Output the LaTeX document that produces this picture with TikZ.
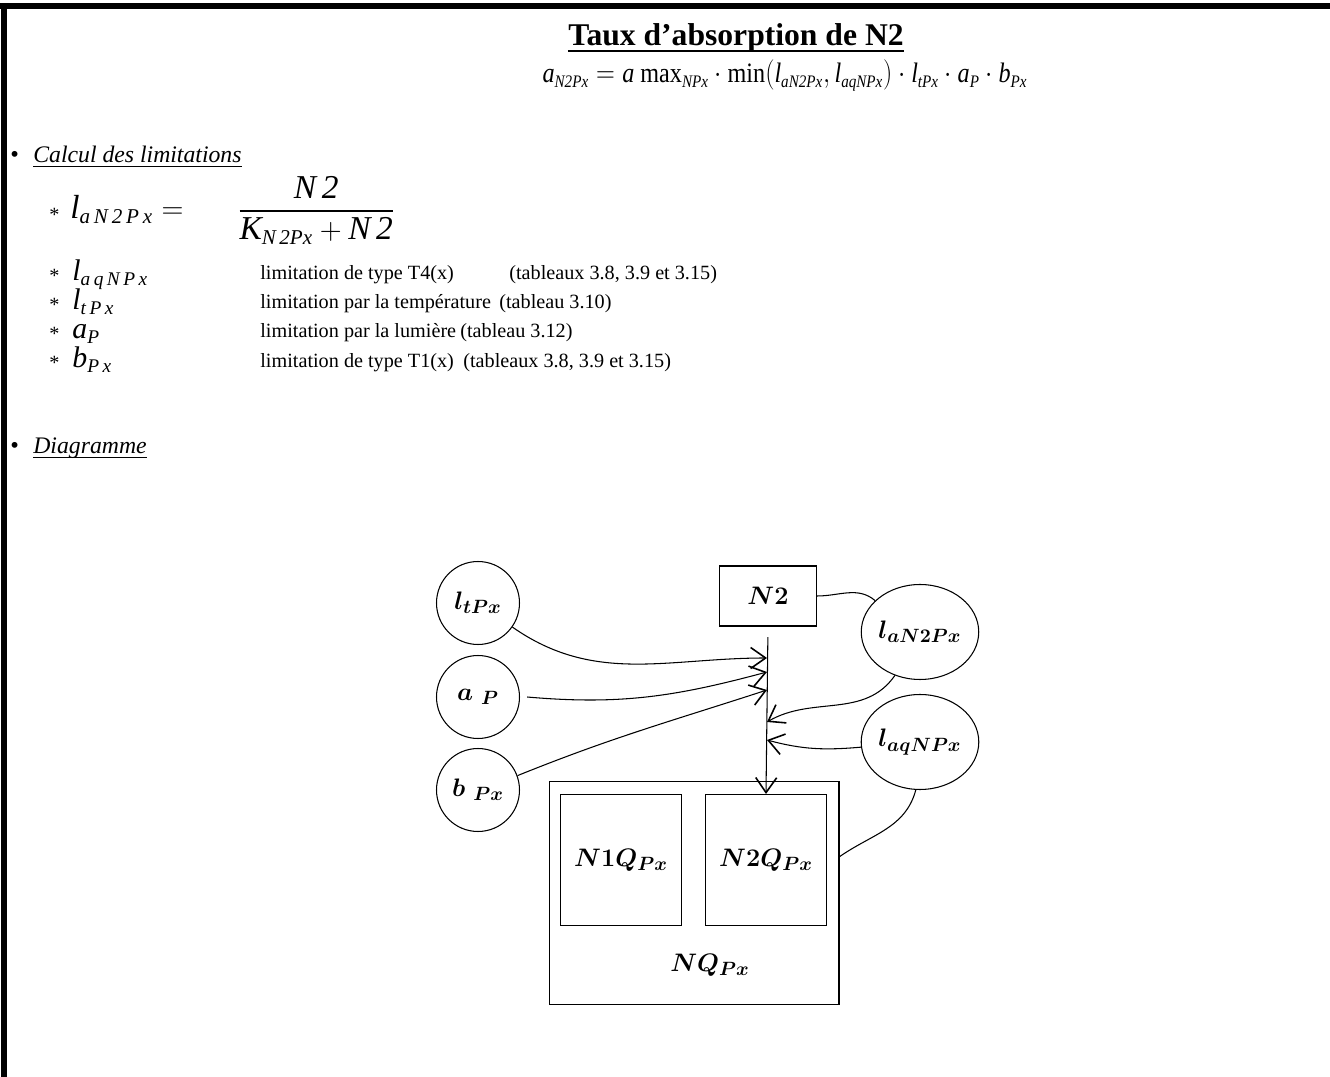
\documentclass[tikz,border=0pt]{standalone}
\usepackage{amsmath}
\usepackage[no-math]{fontspec}
\setmainfont{Liberation Serif}
\newfontfamily\indice[LetterSpace=18]{Liberation Serif}
\usetikzlibrary{arrows.meta,shapes.geometric}

\newcommand\ii[1]{\textit{#1}}
\newcommand\ix[1]{\text{\indice\itshape #1}}
\DeclareMathSizes{16}{16}{10}{8}
\DeclareMathSizes{17}{17}{11}{8}
\DeclareMathSizes{19}{19}{12}{9}

\begin{document}
\begin{tikzpicture}[x=0.02cm, y=-0.02cm, every node/.style={inner sep=0pt},
    texte/.style={anchor=base west, font=\fontsize{11.5}{14}\selectfont},
    formule/.style={anchor=base west, font=\fontsize{17}{20}\selectfont},
    rubrique/.style={anchor=base west, font=\fontsize{13.5}{16}\selectfont\itshape},
    souligne/.style={line width=0.7pt},
    rond/.style={draw, ellipse, line width=0.6pt, minimum width=1.66cm, minimum height=1.66cm, font=\fontsize{15.5}{18}\selectfont\boldmath},
    boite/.style={draw, rectangle, line width=0.6pt, font=\fontsize{15}{18}\selectfont\boldmath},
    fleche/.style={line width=0.6pt, -{Straight Barb[length=0.3cm, width=0.42cm, line width=0.9pt]}},
    lien/.style={line width=0.6pt}]
  \useasboundingbox (0,0) rectangle (1330,1077);
  % cadre
  \fill (0,3) rectangle (1330,9);
  \fill (1,3) rectangle (7,1077);

  % titre et formule
  \node[anchor=base, font=\fontsize{18}{22}\selectfont\bfseries] (titre) at (736,46) {Taux d’absorption de N2};
  \draw[line width=1.2pt] ([yshift=-3pt]titre.base west) -- ([yshift=-3pt]titre.base east);
  \node[anchor=base, font=\fontsize{16}{19}\selectfont] (aN2) at (785,83)
    {\scalebox{0.86}[1]{$\ii{a}_{\ii{N2Px}} = \ii{a}\ \text{max}_{\ii{NPx}}\cdot\text{min}(\ii{l}_{\ii{aN2Px}},\ii{l}_{\ii{aqNPx}})\cdot\ii{l}_{\ii{tPx}}\cdot\ii{a}_{\ii{P}}\cdot\ii{b}_{\ii{Px}}$}};

  % calcul des limitations
  \node[texte, font=\fontsize{14}{16}\selectfont] (puce1) at (10,163) {•};
  \node[rubrique] (calcul) at (33,163) {Calcul des limitations};
  \draw[souligne] ([yshift=-2pt]calcul.base west) -- ([yshift=-2pt]calcul.base east);
  \foreach \y in {222,283,312,341,370} {
    \node[texte] (etoile\y) at (49,\y) {*};
  }
  \node[anchor=west, font=\fontsize{19}{22}\selectfont] (laN) at (70,210)
    {$\ii{l}_{\ix{aN2Px}} =\hspace{26pt} \dfrac{\ii{N\,2}}{\ii{K}_{\ii{N\,2Px}}+\ii{N\,2}}$};
  \node[formule] (laq) at (72,281) {$\ii{l}_{\ix{aqNPx}}$};
  \node[formule] (lt) at (72,310) {$\ii{l}_{\ix{tPx}}$};
  \node[formule] (ap) at (72,339) {$\ii{a}_{\ix{P}}$};
  \node[formule] (bp) at (72,368) {$\ii{b}_{\ix{Px}}$};
  \node[texte] (t1) at (260,280) {limitation de type T4(x)};
  \node[texte] (r1) at (509,280) {(tableaux 3.8, 3.9 et 3.15)};
  \node[texte] (t2) at (260,309) {limitation par la température};
  \node[texte] (r2) at (499,309) {(tableau 3.10)};
  \node[texte] (t3) at (260,338) {limitation par la lumière};
  \node[texte] (r3) at (460,338) {(tableau 3.12)};
  \node[texte] (t4) at (260,368) {limitation de type T1(x)};
  \node[texte] (r4) at (463,368) {(tableaux 3.8, 3.9 et 3.15)};

  \node[texte, font=\fontsize{14}{16}\selectfont] (puce2) at (10,454) {•};
  \node[rubrique] (diag) at (33,454) {Diagramme};
  \draw[souligne] ([yshift=-2pt]diag.base west) -- ([yshift=-2pt]diag.base east);

  % diagramme
  \node[rond] (ltPx) at (478,603) {$l_{tPx}$};
  \node[rond] (aP) at (478,697) {$a\;{}_{P}$};
  \node[rond] (bPx) at (478,790) {$b\;{}_{Px}$};
  \node[rond, minimum width=2.1cm, minimum height=1.9cm] (laN2Px) at (920,632) {$l_{aN2Px}$};
  \node[rond, minimum width=2.1cm, minimum height=1.9cm] (laqNPx) at (920,742) {$l_{aqNPx}$};
  \node[boite, minimum width=1.94cm, minimum height=1.2cm] (N2) at (768,596) {$N2$};
  \node[boite, minimum width=5.8cm, minimum height=4.46cm] (NQ) at (694,893) {};
  \node[boite, minimum width=2.42cm, minimum height=2.62cm] (N1Q) at (621,860) {$N1Q_{Px}$};
  \node[boite, minimum width=2.42cm, minimum height=2.62cm] (N2Q) at (766,860) {$N2Q_{Px}$};
  \node[font=\fontsize{15}{18}\selectfont\boldmath] (NQlabel) at (710,965) {$NQ_{Px}$};

  \coordinate (p1) at (767,658);
  \coordinate (p2) at (767,672);
  \coordinate (p3) at (767,690);
  \coordinate (p4) at (767,722);
  \coordinate (p5) at (767,740);

  \draw[fleche, shorten <=6pt] (N2.south) -- (N2Q.north);
  \draw[fleche] (ltPx.-35) to[out=-35, in=180] (p1);
  \draw[fleche] ([xshift=4pt]aP.east) to[out=-5, in=195] (p2);
  \draw[fleche] (bPx.20) to[out=22, in=198] (p3);
  \draw[fleche] (laN2Px.-120) to[out=-125, in=30] (p4);
  \draw[fleche] (laqNPx.185) to[out=185, in=-15] (p5);
  \draw[lien] (N2.east) to[out=0, in=140] (laN2Px.145);
  \draw[lien] (laqNPx.-95) to[out=-105, in=35] (NQ.14);
\end{tikzpicture}
\end{document}
